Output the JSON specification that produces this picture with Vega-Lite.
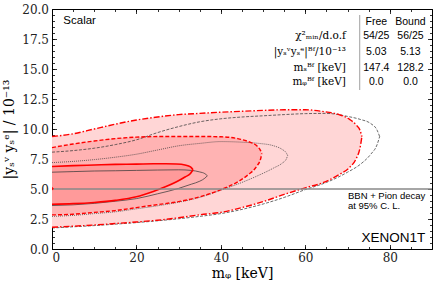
{
  "$schema": "https://vega.github.io/schema/vega-lite/v6.json",
  "width": 380,
  "height": 240,
  "autosize": "none",
  "padding": {"left": 52, "top": 9, "right": 4, "bottom": 40},
  "config": {
    "view": {"stroke": "black", "strokeWidth": 1},
    "axis": {"grid": false, "domain": false, "tickColor": "black", "tickWidth": 0.8, "labelFont": "DejaVu Serif", "labelFontSize": 12, "labelColor": "#222222", "titleFont": "DejaVu Serif", "titleFontWeight": "normal", "titleColor": "black", "titleFontSize": 14, "zindex": 1}
  },
  "datasets": {
    "free": [
      {"c": "3s", "x": 0, "lo": 1.81, "hi": 9.37},
      {"c": "3s", "x": 5, "lo": 1.9, "hi": 9.6},
      {"c": "3s", "x": 10, "lo": 2.0, "hi": 10.0},
      {"c": "3s", "x": 15, "lo": 2.12, "hi": 10.4},
      {"c": "3s", "x": 20, "lo": 2.25, "hi": 10.75},
      {"c": "3s", "x": 25, "lo": 2.4, "hi": 11.0},
      {"c": "3s", "x": 30, "lo": 2.6, "hi": 11.2},
      {"c": "3s", "x": 35, "lo": 2.85, "hi": 11.3},
      {"c": "3s", "x": 40, "lo": 3.05, "hi": 11.4},
      {"c": "3s", "x": 45, "lo": 3.45, "hi": 11.48},
      {"c": "3s", "x": 50, "lo": 3.95, "hi": 11.55},
      {"c": "3s", "x": 55, "lo": 4.55, "hi": 11.6},
      {"c": "3s", "x": 60, "lo": 5.1, "hi": 11.6},
      {"c": "3s", "x": 64, "lo": 5.5, "hi": 11.47},
      {"c": "3s", "x": 68, "lo": 6.2, "hi": 11.2},
      {"c": "3s", "x": 70.5, "lo": 6.8, "hi": 10.8},
      {"c": "3s", "x": 72, "lo": 7.5, "hi": 10.35},
      {"c": "3s", "x": 73, "lo": 8.5, "hi": 9.85},
      {"c": "3s", "x": 73.4, "lo": 9.37, "hi": 9.37},
      {"c": "2s", "x": 0, "lo": 2.84, "hi": 8.45},
      {"c": "2s", "x": 5, "lo": 2.9, "hi": 8.75},
      {"c": "2s", "x": 10, "lo": 3.05, "hi": 9.0},
      {"c": "2s", "x": 15, "lo": 3.2, "hi": 9.2},
      {"c": "2s", "x": 20, "lo": 3.45, "hi": 9.32},
      {"c": "2s", "x": 25, "lo": 3.7, "hi": 9.37},
      {"c": "2s", "x": 30, "lo": 3.95, "hi": 9.38},
      {"c": "2s", "x": 35, "lo": 4.35, "hi": 9.38},
      {"c": "2s", "x": 40, "lo": 4.95, "hi": 9.35},
      {"c": "2s", "x": 44, "lo": 5.6, "hi": 9.2},
      {"c": "2s", "x": 46.5, "lo": 6.2, "hi": 8.95},
      {"c": "2s", "x": 48.5, "lo": 6.9, "hi": 8.6},
      {"c": "2s", "x": 49.4, "lo": 7.5, "hi": 8.2},
      {"c": "2s", "x": 49.7, "lo": 7.95, "hi": 7.95},
      {"c": "1s", "x": 0, "lo": 3.73, "hi": 6.87},
      {"c": "1s", "x": 5, "lo": 3.78, "hi": 6.95},
      {"c": "1s", "x": 10, "lo": 3.88, "hi": 7.0},
      {"c": "1s", "x": 15, "lo": 4.05, "hi": 7.05},
      {"c": "1s", "x": 20, "lo": 4.35, "hi": 7.07},
      {"c": "1s", "x": 24, "lo": 4.8, "hi": 7.1},
      {"c": "1s", "x": 27, "lo": 5.2, "hi": 7.1},
      {"c": "1s", "x": 29.5, "lo": 5.6, "hi": 7.08},
      {"c": "1s", "x": 31.5, "lo": 6.0, "hi": 7.0},
      {"c": "1s", "x": 32.8, "lo": 6.3, "hi": 6.85},
      {"c": "1s", "x": 33.4, "lo": 6.6, "hi": 6.6}
    ],
    "bound": [
      {"c": "b3", "x": 0, "lo": 1.75, "hi": 8.07},
      {"c": "b3", "x": 5, "lo": 1.85, "hi": 8.2},
      {"c": "b3", "x": 10, "lo": 1.95, "hi": 8.4},
      {"c": "b3", "x": 15, "lo": 2.07, "hi": 8.7},
      {"c": "b3", "x": 20, "lo": 2.2, "hi": 9.1},
      {"c": "b3", "x": 25, "lo": 2.35, "hi": 9.7},
      {"c": "b3", "x": 30, "lo": 2.52, "hi": 10.2},
      {"c": "b3", "x": 35, "lo": 2.72, "hi": 10.6},
      {"c": "b3", "x": 40, "lo": 2.95, "hi": 10.85},
      {"c": "b3", "x": 45, "lo": 3.3, "hi": 11.0},
      {"c": "b3", "x": 50, "lo": 3.75, "hi": 11.1},
      {"c": "b3", "x": 55, "lo": 4.3, "hi": 11.2},
      {"c": "b3", "x": 60, "lo": 4.95, "hi": 11.28},
      {"c": "b3", "x": 65, "lo": 5.55, "hi": 11.3},
      {"c": "b3", "x": 70, "lo": 6.4, "hi": 11.05},
      {"c": "b3", "x": 73, "lo": 7.05, "hi": 10.8},
      {"c": "b3", "x": 75.5, "lo": 7.9, "hi": 10.45},
      {"c": "b3", "x": 77, "lo": 8.7, "hi": 9.9},
      {"c": "b3", "x": 77.6, "lo": 9.37, "hi": 9.37},
      {"c": "b2", "x": 0, "lo": 2.72, "hi": 7.2},
      {"c": "b2", "x": 5, "lo": 2.8, "hi": 7.3},
      {"c": "b2", "x": 10, "lo": 2.95, "hi": 7.45},
      {"c": "b2", "x": 15, "lo": 3.1, "hi": 7.65},
      {"c": "b2", "x": 20, "lo": 3.35, "hi": 7.9},
      {"c": "b2", "x": 25, "lo": 3.6, "hi": 8.25},
      {"c": "b2", "x": 30, "lo": 3.9, "hi": 8.6},
      {"c": "b2", "x": 35, "lo": 4.3, "hi": 8.8},
      {"c": "b2", "x": 40, "lo": 4.9, "hi": 8.95},
      {"c": "b2", "x": 45, "lo": 5.55, "hi": 8.9},
      {"c": "b2", "x": 49, "lo": 6.15, "hi": 8.8},
      {"c": "b2", "x": 52.5, "lo": 6.75, "hi": 8.6},
      {"c": "b2", "x": 54.5, "lo": 7.15, "hi": 8.3},
      {"c": "b2", "x": 55.5, "lo": 7.5, "hi": 8.0},
      {"c": "b2", "x": 55.8, "lo": 7.8, "hi": 7.8},
      {"c": "b1", "x": 0, "lo": 3.62, "hi": 6.4},
      {"c": "b1", "x": 5, "lo": 3.68, "hi": 6.45},
      {"c": "b1", "x": 10, "lo": 3.8, "hi": 6.5},
      {"c": "b1", "x": 15, "lo": 3.98, "hi": 6.52},
      {"c": "b1", "x": 20, "lo": 4.2, "hi": 6.55},
      {"c": "b1", "x": 25, "lo": 4.6, "hi": 6.58},
      {"c": "b1", "x": 30, "lo": 5.05, "hi": 6.6},
      {"c": "b1", "x": 33, "lo": 5.4, "hi": 6.55},
      {"c": "b1", "x": 35, "lo": 5.65, "hi": 6.42},
      {"c": "b1", "x": 36.2, "lo": 5.9, "hi": 6.28},
      {"c": "b1", "x": 36.8, "lo": 6.1, "hi": 6.1}
    ],
    "table": [
      {"t": "Free", "x": 76.8, "y": 18.94},
      {"t": "Bound", "x": 84.9, "y": 18.94},
      {"t": "54/25", "x": 76.8, "y": 17.75},
      {"t": "56/25", "x": 84.9, "y": 17.75},
      {"t": "5.03", "x": 76.8, "y": 16.44},
      {"t": "5.13", "x": 84.9, "y": 16.44},
      {"t": "147.4", "x": 76.8, "y": 15.11},
      {"t": "128.2", "x": 84.9, "y": 15.11},
      {"t": "0.0", "x": 76.8, "y": 13.89},
      {"t": "0.0", "x": 84.9, "y": 13.89}
    ],
    "rowlabels": [
      {"t": "χ²ₘᵢₙ/d.o.f", "x": 69.6, "y": 17.75},
      {"t": "|yₛᵛyₛᵉ|ᴮᶠ/10⁻¹³", "x": 69.6, "y": 16.44},
      {"t": "mₛᴮᶠ [keV]", "x": 69.6, "y": 15.11},
      {"t": "mᵩᴮᶠ [keV]", "x": 69.6, "y": 13.89}
    ]
  },
  "layer": [
    {
      "data": {"name": "free"},
      "transform": [{"filter": "datum.c == '3s'"}],
      "mark": {"type": "area", "interpolate": "monotone", "color": "#ffd6d6"},
      "encoding": {
        "x": {"field": "x", "type": "quantitative", "scale": {"domain": [0, 90], "nice": false, "zero": false},
              "axis": {"orient": "bottom", "values": [0, 20, 40, 60, 80], "format": "d", "tickSize": -4.5, "labelPadding": 8, "labelFont": "DejaVu Serif", "labelFontSize": 12, "title": "mᵩ [keV]", "titlePadding": 3}},
        "y": {"field": "lo", "type": "quantitative", "scale": {"domain": [0, 20], "nice": false, "zero": false},
              "axis": {"orient": "left", "values": [0, 2.5, 5, 7.5, 10, 12.5, 15, 17.5, 20], "format": ".1f", "tickSize": -4.5, "labelPadding": 8, "labelFont": "DejaVu Serif", "labelFontSize": 12, "title": "|yₛᵛ yₛᵉ| / 10⁻¹³", "titlePadding": 5}},
        "y2": {"field": "hi"}
      }
    },
    {
      "data": {"name": "free"},
      "transform": [{"filter": "datum.c == '2s'"}],
      "mark": {"type": "area", "interpolate": "monotone", "color": "#ffb3b3"},
      "encoding": {
        "x": {"field": "x", "type": "quantitative", "scale": {"domain": [0, 90], "nice": false, "zero": false},
              "axis": {"orient": "bottom", "values": [0, 5, 10, 15, 20, 25, 30, 35, 40, 45, 50, 55, 60, 65, 70, 75, 80, 85, 90], "tickSize": -2.5, "labels": false, "title": null}},
        "y": {"field": "lo", "type": "quantitative", "scale": {"domain": [0, 20], "nice": false, "zero": false},
              "axis": {"orient": "left", "values": [0, 0.5, 1, 1.5, 2, 2.5, 3, 3.5, 4, 4.5, 5, 5.5, 6, 6.5, 7, 7.5, 8, 8.5, 9, 9.5, 10, 10.5, 11, 11.5, 12, 12.5, 13, 13.5, 14, 14.5, 15, 15.5, 16, 16.5, 17, 17.5, 18, 18.5, 19, 19.5, 20], "tickSize": -2.5, "labels": false, "title": null}},
        "y2": {"field": "hi"}
      }
    },
    {
      "data": {"name": "free"},
      "transform": [{"filter": "datum.c == '1s'"}],
      "mark": {"type": "area", "interpolate": "monotone", "color": "#ff9a9a"},
      "encoding": {
        "x": {"field": "x", "type": "quantitative", "scale": {"domain": [0, 90], "nice": false, "zero": false},
              "axis": {"orient": "top", "values": [0, 20, 40, 60, 80], "tickSize": -4.5, "labels": false, "title": null}},
        "y": {"field": "lo", "type": "quantitative", "scale": {"domain": [0, 20], "nice": false, "zero": false},
              "axis": {"orient": "right", "values": [0, 2.5, 5, 7.5, 10, 12.5, 15, 17.5, 20], "tickSize": -4.5, "labels": false, "title": null}},
        "y2": {"field": "hi"}
      }
    },
    {
      "data": {"name": "bound"},
      "transform": [{"filter": "datum.c == 'b3'"}, {"fold": ["lo", "hi"], "as": ["side", "y"]}],
      "mark": {"type": "line", "interpolate": "monotone", "color": "#3a3a3a", "strokeWidth": 0.75, "strokeDash": [3, 1.5]},
      "encoding": {
        "x": {"field": "x", "type": "quantitative", "scale": {"domain": [0, 90], "nice": false, "zero": false},
              "axis": {"orient": "top", "values": [0, 5, 10, 15, 20, 25, 30, 35, 40, 45, 50, 55, 60, 65, 70, 75, 80, 85, 90], "tickSize": -2.5, "labels": false, "title": null}},
        "y": {"field": "y", "type": "quantitative", "scale": {"domain": [0, 20], "nice": false, "zero": false},
              "axis": {"orient": "right", "values": [0, 0.5, 1, 1.5, 2, 2.5, 3, 3.5, 4, 4.5, 5, 5.5, 6, 6.5, 7, 7.5, 8, 8.5, 9, 9.5, 10, 10.5, 11, 11.5, 12, 12.5, 13, 13.5, 14, 14.5, 15, 15.5, 16, 16.5, 17, 17.5, 18, 18.5, 19, 19.5, 20], "tickSize": -2.5, "labels": false, "title": null}},
        "detail": {"field": "side"}
      }
    },
    {
      "data": {"name": "bound"},
      "transform": [{"filter": "datum.c == 'b2'"}, {"fold": ["lo", "hi"], "as": ["side", "y"]}],
      "mark": {"type": "line", "interpolate": "monotone", "color": "#3a3a3a", "strokeWidth": 0.75, "strokeDash": [1, 1]},
      "encoding": {
        "x": {"field": "x", "type": "quantitative", "scale": {"domain": [0, 90], "nice": false, "zero": false}, "axis": null},
        "y": {"field": "y", "type": "quantitative", "scale": {"domain": [0, 20], "nice": false, "zero": false}, "axis": null},
        "detail": {"field": "side"}
      }
    },
    {
      "data": {"name": "bound"},
      "transform": [{"filter": "datum.c == 'b1'"}, {"fold": ["lo", "hi"], "as": ["side", "y"]}],
      "mark": {"type": "line", "interpolate": "monotone", "color": "#3a3a3a", "strokeWidth": 0.75},
      "encoding": {
        "x": {"field": "x", "type": "quantitative", "scale": {"domain": [0, 90], "nice": false, "zero": false}, "axis": null},
        "y": {"field": "y", "type": "quantitative", "scale": {"domain": [0, 20], "nice": false, "zero": false}, "axis": null},
        "detail": {"field": "side"}
      }
    },
    {
      "data": {"name": "free"},
      "transform": [{"filter": "datum.c == '3s'"}, {"fold": ["lo", "hi"], "as": ["side", "y"]}],
      "mark": {"type": "line", "interpolate": "monotone", "color": "#ff0000", "strokeWidth": 1.4, "strokeDash": [6, 2, 1.5, 2]},
      "encoding": {
        "x": {"field": "x", "type": "quantitative", "scale": {"domain": [0, 90], "nice": false, "zero": false}, "axis": null},
        "y": {"field": "y", "type": "quantitative", "scale": {"domain": [0, 20], "nice": false, "zero": false}, "axis": null},
        "detail": {"field": "side"}
      }
    },
    {
      "data": {"name": "free"},
      "transform": [{"filter": "datum.c == '2s'"}, {"fold": ["lo", "hi"], "as": ["side", "y"]}],
      "mark": {"type": "line", "interpolate": "monotone", "color": "#ff0000", "strokeWidth": 1.4, "strokeDash": [4, 2]},
      "encoding": {
        "x": {"field": "x", "type": "quantitative", "scale": {"domain": [0, 90], "nice": false, "zero": false}, "axis": null},
        "y": {"field": "y", "type": "quantitative", "scale": {"domain": [0, 20], "nice": false, "zero": false}, "axis": null},
        "detail": {"field": "side"}
      }
    },
    {
      "data": {"name": "free"},
      "transform": [{"filter": "datum.c == '1s'"}, {"fold": ["lo", "hi"], "as": ["side", "y"]}],
      "mark": {"type": "line", "interpolate": "monotone", "color": "#ff0000", "strokeWidth": 1.6},
      "encoding": {
        "x": {"field": "x", "type": "quantitative", "scale": {"domain": [0, 90], "nice": false, "zero": false}, "axis": null},
        "y": {"field": "y", "type": "quantitative", "scale": {"domain": [0, 20], "nice": false, "zero": false}, "axis": null},
        "detail": {"field": "side"}
      }
    },
    {
      "data": {"values": [{"y": 5.0}]},
      "mark": {"type": "rule", "color": "#888888", "strokeWidth": 1.6},
      "encoding": {
        "y": {"field": "y", "type": "quantitative", "scale": {"domain": [0, 20], "nice": false, "zero": false}, "axis": null}
      }
    },
    {
      "data": {"values": [{"x": 0, "y": 5.03}]},
      "mark": {"type": "point", "shape": "diamond", "filled": true, "color": "#ff0000", "size": 14, "clip": true, "opacity": 1},
      "encoding": {
        "x": {"field": "x", "type": "quantitative", "scale": {"domain": [0, 90], "nice": false, "zero": false}, "axis": null},
        "y": {"field": "y", "type": "quantitative", "scale": {"domain": [0, 20], "nice": false, "zero": false}, "axis": null}
      }
    },
    {
      "data": {"values": [{"x": 72.88, "y": 13.25, "y2": 19.5}]},
      "mark": {"type": "rule", "color": "#888888", "strokeWidth": 0.8},
      "encoding": {
        "x": {"field": "x", "type": "quantitative", "scale": {"domain": [0, 90], "nice": false, "zero": false}, "axis": null},
        "y": {"field": "y", "type": "quantitative", "scale": {"domain": [0, 20], "nice": false, "zero": false}, "axis": null},
        "y2": {"field": "y2"}
      }
    },
    {
      "data": {"name": "table"},
      "mark": {"type": "text", "font": "Liberation Sans", "fontSize": 10.5, "align": "center", "baseline": "middle", "color": "black"},
      "encoding": {
        "x": {"field": "x", "type": "quantitative", "scale": {"domain": [0, 90], "nice": false, "zero": false}, "axis": null},
        "y": {"field": "y", "type": "quantitative", "scale": {"domain": [0, 20], "nice": false, "zero": false}, "axis": null},
        "text": {"field": "t"}
      }
    },
    {
      "data": {"name": "rowlabels"},
      "mark": {"type": "text", "font": "DejaVu Serif", "fontSize": 10.5, "align": "right", "baseline": "middle", "color": "black"},
      "encoding": {
        "x": {"field": "x", "type": "quantitative", "scale": {"domain": [0, 90], "nice": false, "zero": false}, "axis": null},
        "y": {"field": "y", "type": "quantitative", "scale": {"domain": [0, 20], "nice": false, "zero": false}, "axis": null},
        "text": {"field": "t"}
      }
    },
    {
      "data": {"values": [{"t": "Scalar", "x": 2.68, "y": 18.96}]},
      "mark": {"type": "text", "font": "Liberation Sans", "fontSize": 11.5, "align": "left", "baseline": "middle", "color": "black"},
      "encoding": {
        "x": {"field": "x", "type": "quantitative", "scale": {"domain": [0, 90], "nice": false, "zero": false}, "axis": null},
        "y": {"field": "y", "type": "quantitative", "scale": {"domain": [0, 20], "nice": false, "zero": false}, "axis": null},
        "text": {"field": "t"}
      }
    },
    {
      "data": {"values": [{"t": "BBN + Pion decay", "x": 70.1, "y": 4.42}, {"t": "at 95% C. L.", "x": 70.1, "y": 3.58}]},
      "mark": {"type": "text", "font": "Liberation Sans", "fontSize": 9.5, "align": "left", "baseline": "middle", "color": "black"},
      "encoding": {
        "x": {"field": "x", "type": "quantitative", "scale": {"domain": [0, 90], "nice": false, "zero": false}, "axis": null},
        "y": {"field": "y", "type": "quantitative", "scale": {"domain": [0, 20], "nice": false, "zero": false}, "axis": null},
        "text": {"field": "t"}
      }
    },
    {
      "data": {"values": [{"t": "XENON1T", "x": 88.4, "y": 0.89}]},
      "mark": {"type": "text", "font": "Liberation Sans", "fontSize": 13.5, "align": "right", "baseline": "middle", "color": "black"},
      "encoding": {
        "x": {"field": "x", "type": "quantitative", "scale": {"domain": [0, 90], "nice": false, "zero": false}, "axis": null},
        "y": {"field": "y", "type": "quantitative", "scale": {"domain": [0, 20], "nice": false, "zero": false}, "axis": null},
        "text": {"field": "t"}
      }
    }
  ],
  "resolve": {"axis": {"x": "independent", "y": "independent"}}
}
